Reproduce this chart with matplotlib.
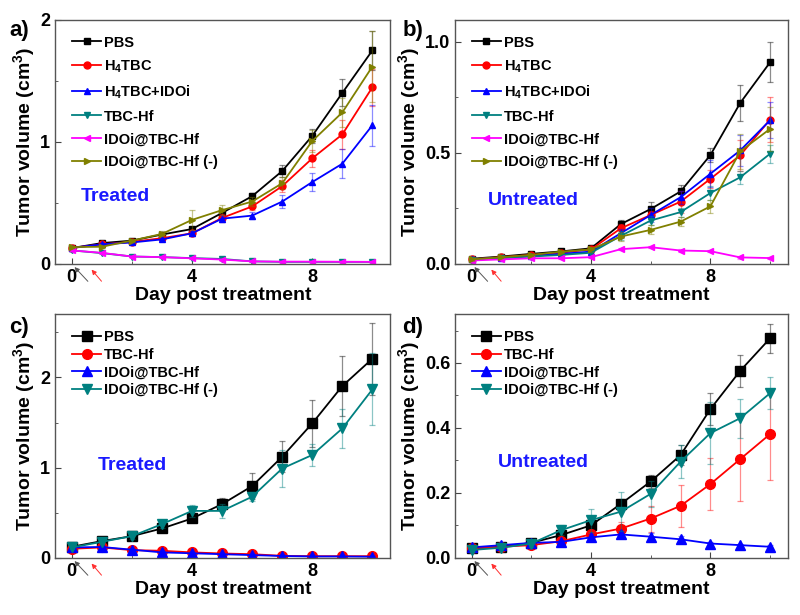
import numpy as np
import matplotlib
matplotlib.use("Agg")
import matplotlib.pyplot as plt
from matplotlib.ticker import MultipleLocator

plt.rcParams['font.family'] = ['Liberation Sans', 'DejaVu Sans']
plt.rcParams['font.weight'] = 'bold'
plt.rcParams['mathtext.fontset'] = 'custom'
plt.rcParams['mathtext.rm'] = 'Liberation Sans:bold'
plt.rcParams['mathtext.bf'] = 'Liberation Sans:bold'
plt.rcParams['mathtext.default'] = 'rm'

days = np.arange(0, 11)

# panel a - treated tumors
a_labels = ['PBS', 'H$_4$TBC', 'H$_4$TBC+IDOi', 'TBC-Hf', 'IDOi@TBC-Hf', 'IDOi@TBC-Hf (-)']
a_vals = [
    [0.129, 0.17, 0.19, 0.24, 0.285, 0.417, 0.554, 0.76, 1.048, 1.40, 1.748],
    [0.13, 0.16, 0.18, 0.21, 0.25, 0.376, 0.47, 0.636, 0.864, 1.06, 1.446],
    [0.13, 0.16, 0.175, 0.20, 0.25, 0.37, 0.395, 0.51, 0.67, 0.82, 1.135],
    [0.11, 0.088, 0.06, 0.055, 0.047, 0.04, 0.02, 0.016, 0.016, 0.016, 0.016],
    [0.11, 0.09, 0.06, 0.055, 0.045, 0.035, 0.02, 0.018, 0.018, 0.017, 0.016],
    [0.137, 0.14, 0.19, 0.245, 0.36, 0.44, 0.51, 0.66, 1.006, 1.24, 1.616],
]
a_errs = [
    [0.01, 0.01, 0.01, 0.015, 0.02, 0.03, 0.03, 0.05, 0.06, 0.11, 0.16],
    [0.01, 0.01, 0.01, 0.01, 0.02, 0.03, 0.03, 0.05, 0.07, 0.12, 0.15],
    [0.01, 0.01, 0.01, 0.01, 0.02, 0.03, 0.03, 0.05, 0.07, 0.12, 0.17],
    [0.005] * 11,
    [0.005] * 11,
    [0.01, 0.01, 0.01, 0.02, 0.08, 0.04, 0.04, 0.05, 0.09, 0.12, 0.29],
]

# panel b - untreated tumors
b_labels = a_labels
b_vals = [
    [0.023, 0.033, 0.045, 0.056, 0.07, 0.179, 0.247, 0.326, 0.49, 0.725, 0.908],
    [0.02, 0.03, 0.04, 0.05, 0.065, 0.16, 0.22, 0.28, 0.383, 0.489, 0.65],
    [0.02, 0.028, 0.035, 0.045, 0.055, 0.138, 0.22, 0.30, 0.406, 0.511, 0.647],
    [0.018, 0.025, 0.033, 0.04, 0.05, 0.126, 0.195, 0.233, 0.319, 0.39, 0.496],
    [0.015, 0.02, 0.025, 0.025, 0.03, 0.066, 0.075, 0.06, 0.057, 0.029, 0.026],
    [0.02, 0.03, 0.04, 0.055, 0.065, 0.123, 0.153, 0.19, 0.259, 0.507, 0.608],
]
b_errs = [
    [0.005, 0.005, 0.005, 0.005, 0.01, 0.02, 0.03, 0.03, 0.03, 0.08, 0.09],
    [0.005, 0.005, 0.005, 0.005, 0.01, 0.02, 0.02, 0.05, 0.04, 0.07, 0.10],
    [0.005, 0.005, 0.005, 0.005, 0.01, 0.02, 0.03, 0.03, 0.06, 0.07, 0.08],
    [0.005, 0.005, 0.005, 0.005, 0.01, 0.02, 0.02, 0.02, 0.03, 0.03, 0.04],
    [0.005] * 11,
    [0.005, 0.005, 0.005, 0.005, 0.01, 0.02, 0.02, 0.02, 0.03, 0.08, 0.10],
]

# panel c - treated tumors
c_labels = ['PBS', 'TBC-Hf', 'IDOi@TBC-Hf', 'IDOi@TBC-Hf (-)']
c_vals = [
    [0.122, 0.185, 0.24, 0.325, 0.436, 0.595, 0.795, 1.12, 1.49, 1.904, 2.207],
    [0.10, 0.115, 0.085, 0.078, 0.06, 0.048, 0.04, 0.022, 0.018, 0.018, 0.018],
    [0.115, 0.12, 0.09, 0.06, 0.05, 0.04, 0.03, 0.02, 0.015, 0.015, 0.012],
    [0.115, 0.177, 0.24, 0.373, 0.52, 0.52, 0.677, 0.99, 1.14, 1.434, 1.867],
]
c_errs = [
    [0.02, 0.02, 0.02, 0.03, 0.04, 0.07, 0.14, 0.17, 0.26, 0.33, 0.40],
    [0.01] * 11,
    [0.01] * 11,
    [0.02, 0.02, 0.03, 0.04, 0.07, 0.08, 0.05, 0.21, 0.12, 0.22, 0.40],
]

# panel d - untreated tumors
d_labels = c_labels
d_vals = [
    [0.029, 0.034, 0.046, 0.07, 0.10, 0.166, 0.235, 0.316, 0.458, 0.576, 0.676],
    [0.029, 0.034, 0.039, 0.051, 0.072, 0.09, 0.121, 0.16, 0.227, 0.304, 0.381],
    [0.032, 0.039, 0.046, 0.049, 0.063, 0.072, 0.065, 0.057, 0.044, 0.039, 0.034],
    [0.024, 0.031, 0.044, 0.085, 0.116, 0.142, 0.197, 0.296, 0.384, 0.43, 0.507],
]
d_errs = [
    [0.005, 0.005, 0.005, 0.01, 0.015, 0.015, 0.02, 0.03, 0.05, 0.05, 0.045],
    [0.005, 0.005, 0.005, 0.01, 0.015, 0.02, 0.04, 0.065, 0.08, 0.13, 0.14],
    [0.005, 0.005, 0.005, 0.005, 0.01, 0.01, 0.01, 0.01, 0.005, 0.005, 0.005],
    [0.005, 0.005, 0.01, 0.015, 0.035, 0.06, 0.04, 0.05, 0.095, 0.06, 0.05],
]

six_colors = ['black', '#ff0000', '#0000ff', '#008080', '#ff00ff', '#808000']
six_markers = ['s', 'o', '^', 'v', '<', '>']
four_colors = ['black', '#ff0000', '#0000ff', '#008080']
four_markers = ['s', 'o', '^', 'v']

fig = plt.figure(figsize=(8, 6.15), dpi=100)

panels = [
    # rect, vals, errs, labels, colors, markers, ylim, ymajor, yfmt, msize, note, note_xy, letter, letter_xy, legsp
    ([0.069, 0.571, 0.419, 0.397], a_vals, a_errs, a_labels, six_colors, six_markers,
     2.0, 1, '%d', 5, 'Treated', (0.18, 0.275), 'a)', (0.012, 0.968), 0.6),
    ([0.569, 0.571, 0.416, 0.397], b_vals, b_errs, b_labels, six_colors, six_markers,
     1.1, 0.5, '%.1f', 5, 'Untreated', (0.234, 0.258), 'b)', (0.503, 0.968), 0.6),
    ([0.069, 0.093, 0.419, 0.396], c_vals, c_errs, c_labels, four_colors, four_markers,
     2.7, 1, '%d', 7, 'Treated', (0.23, 0.377), 'c)', (0.012, 0.485), 0.25),
    ([0.569, 0.093, 0.416, 0.396], d_vals, d_errs, d_labels, four_colors, four_markers,
     0.75, 0.2, '%.1f', 7, 'Untreated', (0.264, 0.39), 'd)', (0.503, 0.485), 0.25),
]

for rect, vals, errs, labels, colors, markers, ytop, ymaj, yfmt, ms, note, nxy, letter, lxy, lsp in panels:
    ax = fig.add_axes(rect)
    for v, e, lab, col, mk in zip(vals, errs, labels, colors, markers):
        ax.errorbar(days, v, yerr=e, fmt='none', ecolor=col, alpha=0.45,
                    elinewidth=0.9, capsize=2.5, capthick=0.9)
        ax.plot(days, v, color=col, marker=mk, markersize=ms, lw=1.3, label=lab)
    ax.set_xlim(-0.55, 10.6)
    ax.set_ylim(0, ytop)
    ax.xaxis.set_major_locator(MultipleLocator(4))
    ax.xaxis.set_minor_locator(MultipleLocator(2))
    ax.yaxis.set_major_locator(MultipleLocator(ymaj))
    ax.yaxis.set_minor_locator(MultipleLocator(ymaj / 2))
    ax.yaxis.set_major_formatter(plt.FormatStrFormatter(yfmt))
    ax.tick_params(which='both', direction='in', top=False, right=False,
                   labelsize=13, color='#444444')
    ax.tick_params(which='major', length=4)
    ax.tick_params(which='minor', length=2.5)
    for s in ax.spines.values():
        s.set_color('#555555')
        s.set_linewidth(1.0)
    for t in ax.get_xticklabels() + ax.get_yticklabels():
        t.set_fontweight('bold')
    ax.set_xlabel('Day post treatment', fontsize=14, fontweight='bold', labelpad=1)
    ax.set_ylabel('Tumor volume (cm$^3$)', fontsize=14, fontweight='bold', labelpad=2)
    ax.legend(loc='upper left', bbox_to_anchor=(0.05, 0.935), frameon=False,
              prop={'size': 10.5, 'weight': 'bold'}, handlelength=2.0,
              handletextpad=0.2, labelspacing=lsp, borderaxespad=0, borderpad=0)
    ax.text(nxy[0], nxy[1], note, transform=ax.transAxes, color='#1a1aff',
            fontsize=14, fontweight='bold', ha='center', va='center')
    # injection arrows under the first day
    ax.annotate('', xy=(0.03, -0.005), xycoords=('data', 'axes fraction'),
                xytext=(0.6, -0.08), textcoords=('data', 'axes fraction'),
                arrowprops=dict(arrowstyle='-|>', color='#555555', lw=0.7,
                                mutation_scale=7), annotation_clip=False)
    ax.annotate('', xy=(0.6, -0.015), xycoords=('data', 'axes fraction'),
                xytext=(1.05, -0.08), textcoords=('data', 'axes fraction'),
                arrowprops=dict(arrowstyle='-|>', color='#ff3030', lw=0.7,
                                mutation_scale=7), annotation_clip=False)
    fig.text(lxy[0], lxy[1], letter, fontsize=16, fontweight='bold', va='top', ha='left')

fig.savefig('out.png', dpi=100)
